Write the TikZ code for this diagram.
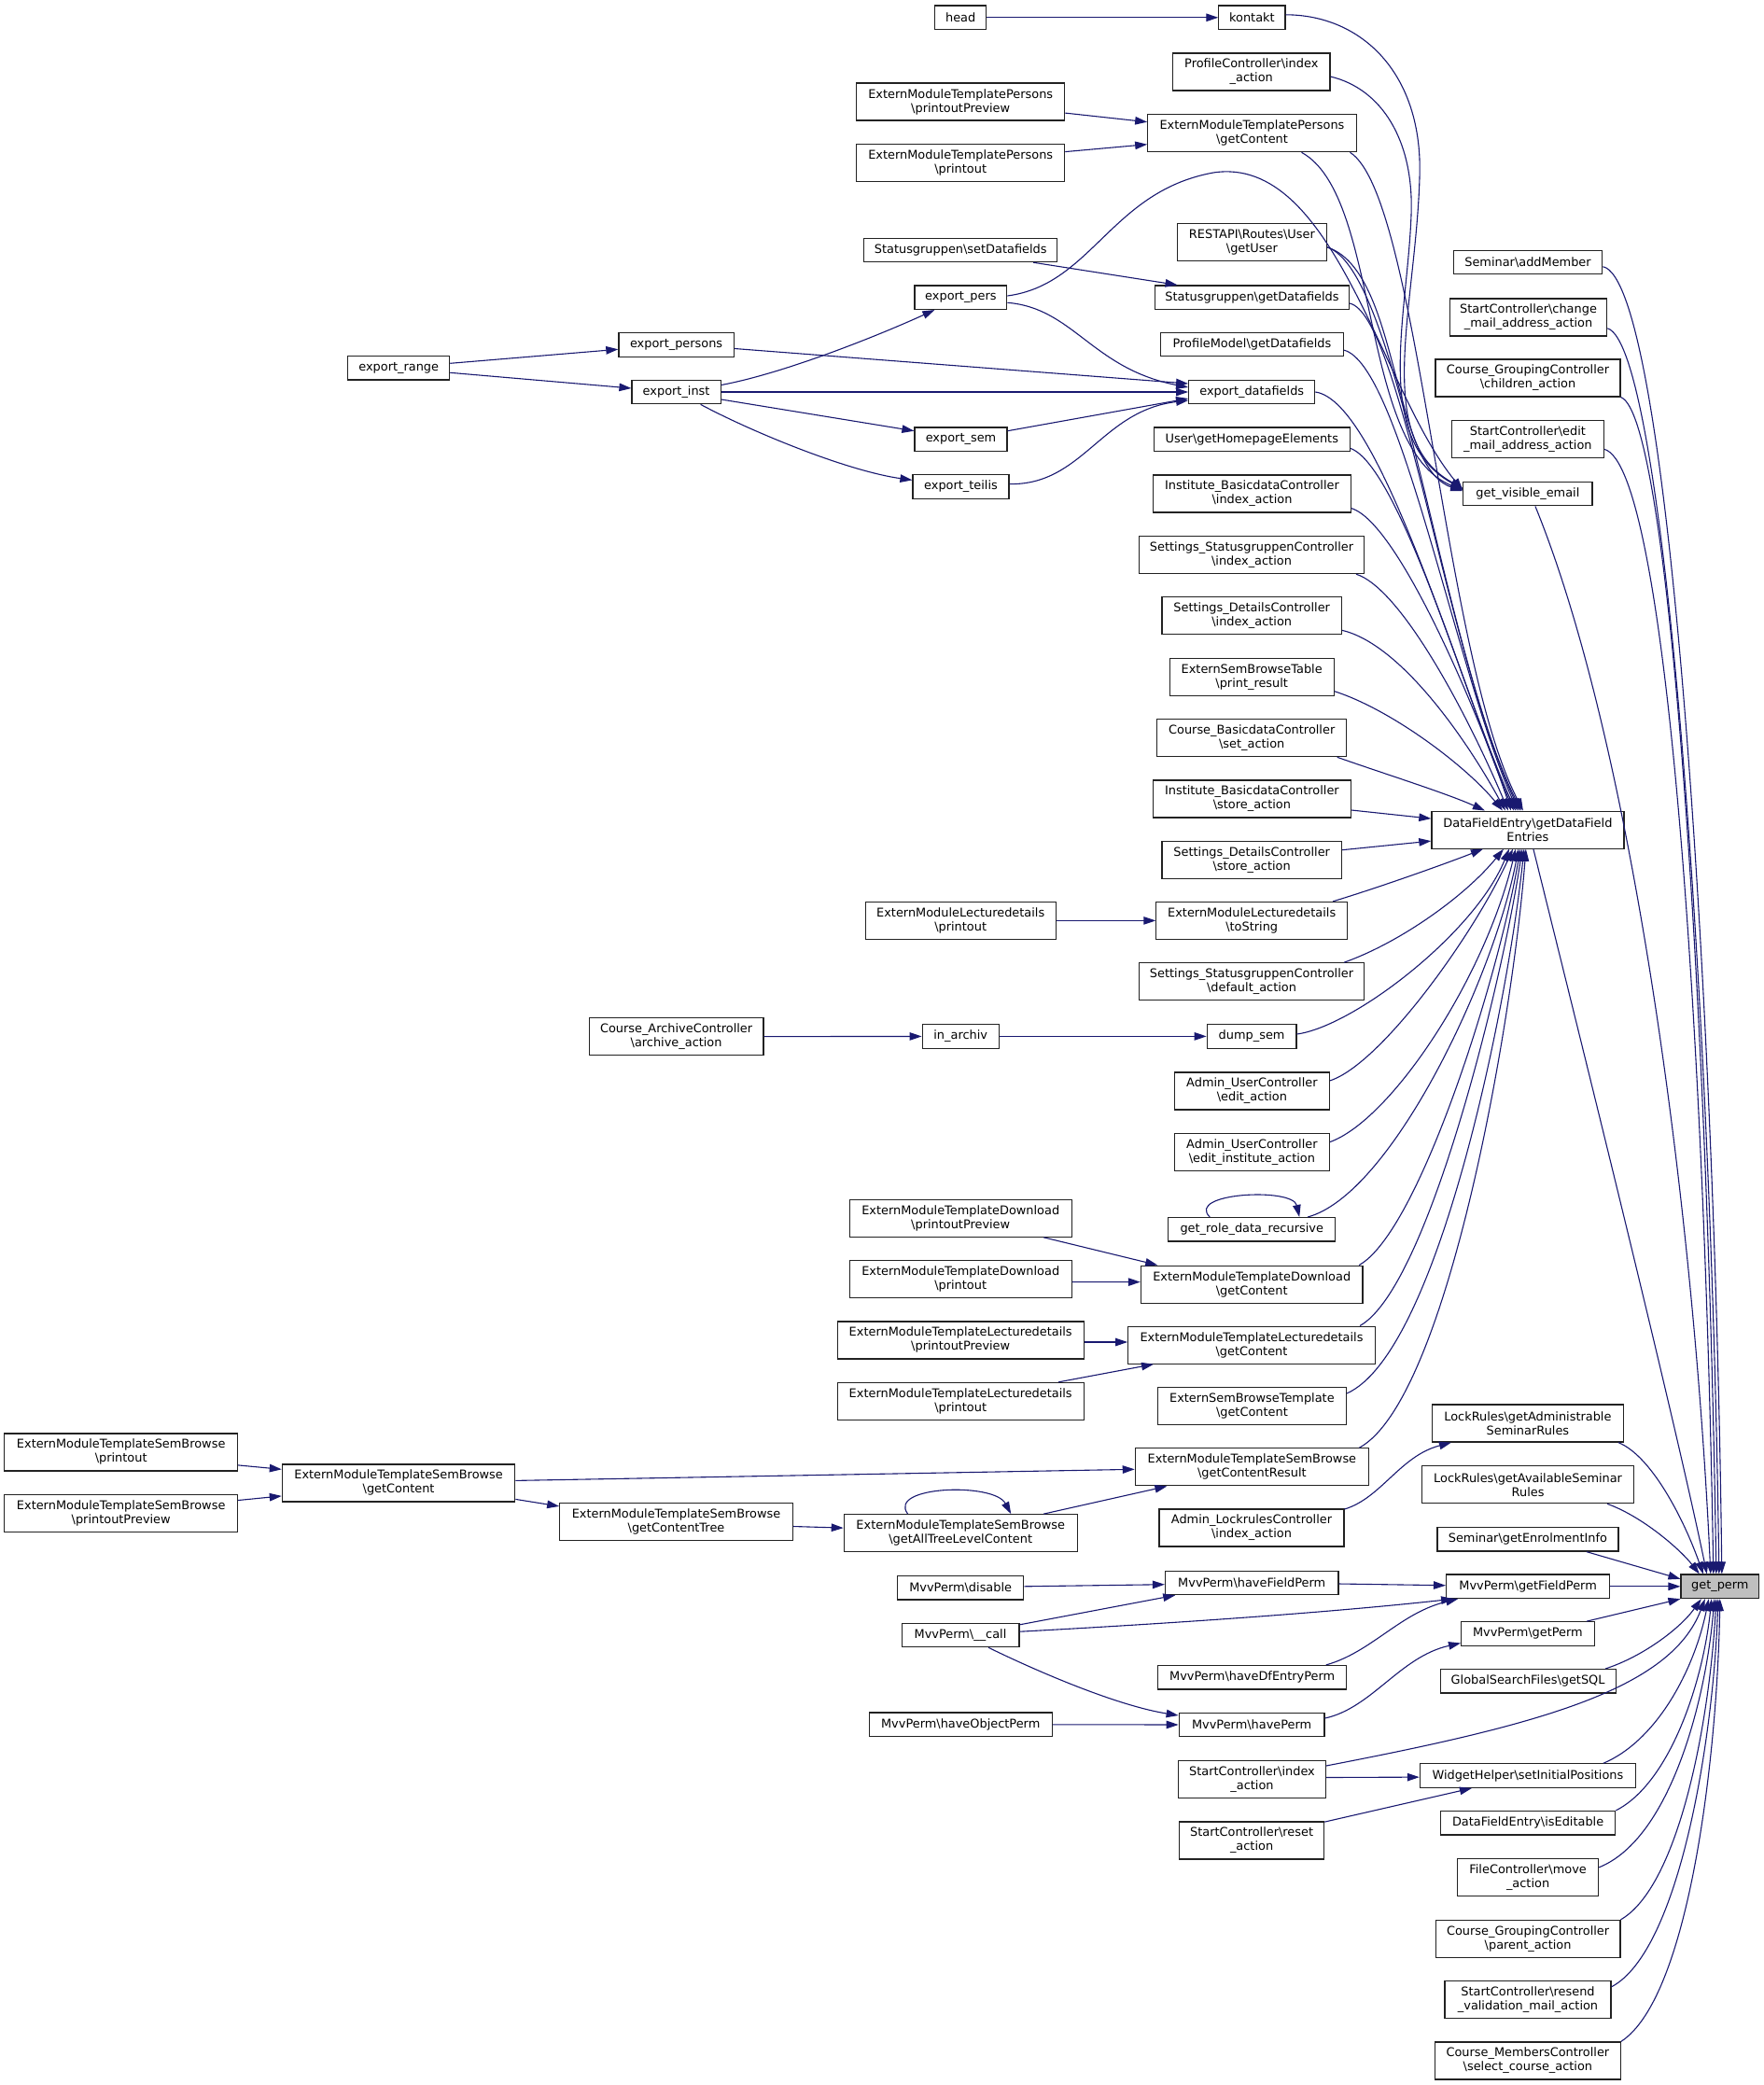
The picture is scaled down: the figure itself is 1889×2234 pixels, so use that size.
\documentclass[tikz,border=0pt]{standalone}
\usepackage{fontspec}
\setmainfont{DejaVu Sans}
\usetikzlibrary{arrows.meta}
\definecolor{edgec}{HTML}{191970}
\definecolor{gpfill}{HTML}{BFBFBF}
\definecolor{boxc}{HTML}{222222}
\newcommand{\bsl}{\textbackslash}
\begin{document}
\begin{tikzpicture}[x=1pt,y=-1pt,
  box/.style={draw=boxc, line width=1.2pt, fill=white, inner sep=0pt, minimum height=25.5pt, align=center, font=\fontsize{12.9}{15}\selectfont},
  boxb/.style={box, minimum height=40pt},
  edg/.style={draw=edgec, line width=1.1pt, -{Triangle[length=13pt,width=8.5pt]}}]
\useasboundingbox (0,0) rectangle (1889,2234);
% column A
\node[boxb, minimum width=249.8pt] (smbPrint) at (129.7,1555.9) {ExternModuleTemplateSemBrowse\\\bsl printout};
\node[boxb, minimum width=249.8pt] (smbPrev) at (129.7,1621.3) {ExternModuleTemplateSemBrowse\\\bsl printoutPreview};
% column B
\node[box, minimum width=108.9pt] (exRange) at (427.2,394.3) {export\_range};
\node[boxb, minimum width=249.4pt] (smbGC) at (427.1,1588.9) {ExternModuleTemplateSemBrowse\\\bsl getContent};
% column C
\node[box, minimum width=123.4pt] (exPersons) at (724.6,369.5) {export\_persons};
\node[box, minimum width=95.2pt] (exInst) at (724.6,420) {export\_inst};
\node[boxb, minimum width=186.8pt] (caArch) at (724.6,1110.7) {Course\_ArchiveController\\\bsl archive\_action};
\node[boxb, minimum width=249.5pt] (smbTree) at (724.5,1630.5) {ExternModuleTemplateSemBrowse\\\bsl getContentTree};
% column D
\node[box, minimum width=55pt] (head) at (1029.2,18.8) {head};
\node[boxb, minimum width=222.9pt] (tpPrev) at (1029.2,109.1) {ExternModuleTemplatePersons\\\bsl printoutPreview};
\node[boxb, minimum width=222.9pt] (tpPrint) at (1029.2,174.6) {ExternModuleTemplatePersons\\\bsl printout};
\node[box, minimum width=206.9pt] (sgSet) at (1029.2,267.9) {Statusgruppen\bsl setDatafields};
\node[box, minimum width=98.8pt] (exPers) at (1029.4,318.7) {export\_pers};
\node[box, minimum width=99pt] (exSem) at (1029.5,470.7) {export\_sem};
\node[box, minimum width=103pt] (exTeilis) at (1029.5,521.4) {export\_teilis};
\node[boxb, minimum width=204pt] (eldPrint) at (1029.2,986.4) {ExternModuleLecturedetails\\\bsl printout};
\node[box, minimum width=82pt] (inArchiv) at (1029.2,1110.4) {in\_archiv};
\node[boxb, minimum width=237.8pt] (dlPrev) at (1029.2,1305.2) {ExternModuleTemplateDownload\\\bsl printoutPreview};
\node[boxb, minimum width=237.8pt] (dlPrint) at (1029.2,1370.7) {ExternModuleTemplateDownload\\\bsl printout};
\node[boxb, minimum width=264.2pt] (ltPrev) at (1029.2,1435.9) {ExternModuleTemplateLecturedetails\\\bsl printoutPreview};
\node[boxb, minimum width=264.2pt] (ltPrint) at (1029.2,1501.4) {ExternModuleTemplateLecturedetails\\\bsl printout};
\node[boxb, minimum width=249.8pt] (atlc) at (1029.2,1642.7) {ExternModuleTemplateSemBrowse\\\bsl getAllTreeLevelContent};
\node[box, minimum width=135pt] (mvDisable) at (1029.2,1701.2) {MvvPerm\bsl disable};
\node[box, minimum width=125.8pt] (mvCall) at (1029,1751.9) {MvvPerm\bsl \_\_call};
\node[box, minimum width=196pt] (mvObj) at (1029.2,1847.8) {MvvPerm\bsl haveObjectPerm};
% column E
\node[box, minimum width=71.1pt] (kontakt) at (1341.4,18.8) {kontakt};
\node[boxb, minimum width=168.5pt] (pcIndex) at (1340.8,77.1) {ProfileController\bsl index\\\_action};
\node[boxb, minimum width=223.5pt] (tpGC) at (1341.5,142.7) {ExternModuleTemplatePersons\\\bsl getContent};
\node[boxb, minimum width=159.5pt] (rest) at (1341.4,259.8) {RESTAPI\bsl Routes\bsl User\\\bsl getUser};
\node[box, minimum width=207.3pt] (sgGet) at (1341.5,318.7) {Statusgruppen\bsl getDatafields};
\node[box, minimum width=195.3pt] (pmGet) at (1341.5,369.1) {ProfileModel\bsl getDatafields};
\node[box, minimum width=135pt] (exDf) at (1341.2,420) {export\_datafields};
\node[box, minimum width=210.1pt] (userHome) at (1341.3,470.7) {User\bsl getHomepageElements};
\node[boxb, minimum width=211.3pt] (ibIndex) at (1341.5,528.9) {Institute\_BasicdataController\\\bsl index\_action};
\node[boxb, minimum width=241.2pt] (ssIndex) at (1341,594.6) {Settings\_StatusgruppenController\\\bsl index\_action};
\node[boxb, minimum width=192.6pt] (sdIndex) at (1341.2,659.8) {Settings\_DetailsController\\\bsl index\_action};
\node[boxb, minimum width=175.8pt] (esbt) at (1341.2,725.2) {ExternSemBrowseTable\\\bsl print\_result};
\node[boxb, minimum width=203.1pt] (cbSet) at (1341.2,790.7) {Course\_BasicdataController\\\bsl set\_action};
\node[boxb, minimum width=211.6pt] (ibStore) at (1341.4,856) {Institute\_BasicdataController\\\bsl store\_action};
\node[boxb, minimum width=192.6pt] (sdStore) at (1341.2,921.4) {Settings\_DetailsController\\\bsl store\_action};
\node[boxb, minimum width=204.7pt] (eldTo) at (1341.2,986.4) {ExternModuleLecturedetails\\\bsl toString};
\node[boxb, minimum width=241.2pt] (ssDefault) at (1341,1051.8) {Settings\_StatusgruppenController\\\bsl default\_action};
\node[box, minimum width=95.6pt] (dumpSem) at (1341.1,1110.4) {dump\_sem};
\node[boxb, minimum width=165.8pt] (auEdit) at (1341.4,1168.9) {Admin\_UserController\\\bsl edit\_action};
\node[boxb, minimum width=165.8pt] (auInst) at (1341.4,1234.6) {Admin\_UserController\\\bsl edit\_institute\_action};
\node[box, minimum width=179pt] (grdr) at (1341.2,1317.3) {get\_role\_data\_recursive};
\node[boxb, minimum width=237.6pt] (dlGC) at (1341.2,1376.1) {ExternModuleTemplateDownload\\\bsl getContent};
\node[boxb, minimum width=264.6pt] (ltGC) at (1341,1441.1) {ExternModuleTemplateLecturedetails\\\bsl getContent};
\node[boxb, minimum width=201.9pt] (esbtGC) at (1341.4,1506.6) {ExternSemBrowseTemplate\\\bsl getContent};
\node[boxb, minimum width=250.1pt] (smbRes) at (1341.4,1571.8) {ExternModuleTemplateSemBrowse\\\bsl getContentResult};
\node[boxb, minimum width=197.9pt] (alIndex) at (1341,1637) {Admin\_LockrulesController\\\bsl index\_action};
\node[box, minimum width=185.4pt] (mvHaveField) at (1341.2,1695.9) {MvvPerm\bsl haveFieldPerm};
\node[box, minimum width=202pt] (mvDf) at (1341.7,1797.3) {MvvPerm\bsl haveDfEntryPerm};
\node[box, minimum width=155.8pt] (mvHave) at (1341.1,1848) {MvvPerm\bsl havePerm};
\node[boxb, minimum width=157.4pt] (scIndex) at (1341.5,1906.5) {StartController\bsl index\\\_action};
\node[boxb, minimum width=155pt] (scReset) at (1341.1,1971.9) {StartController\bsl reset\\\_action};
% column F
\node[box, minimum width=159.5pt] (addMember) at (1637,281) {Seminar\bsl addMember};
\node[boxb, minimum width=168.3pt] (scChange) at (1637.5,340) {StartController\bsl change\\\_mail\_address\_action};
\node[boxb, minimum width=198pt] (cgChildren) at (1637,405) {Course\_GroupingController\\\bsl children\_action};
\node[boxb, minimum width=163.1pt] (scEdit) at (1636.9,470.7) {StartController\bsl edit\\\_mail\_address\_action};
\node[box, minimum width=138.2pt] (gve) at (1636.9,529.1) {get\_visible\_email};
\node[boxb, minimum width=206pt] (dfe) at (1636.9,889.1) {DataFieldEntry\bsl getDataField\\Entries};
\node[boxb, minimum width=204.4pt] (lrAdm) at (1636.9,1525) {LockRules\bsl getAdministrable\\SeminarRules};
\node[boxb, minimum width=227.3pt] (lrAvail) at (1637.1,1590.7) {LockRules\bsl getAvailableSeminar\\Rules};
\node[box, minimum width=194pt] (enrol) at (1636.9,1649.3) {Seminar\bsl getEnrolmentInfo};
\node[box, minimum width=175.1pt] (mvGetField) at (1637.1,1699.8) {MvvPerm\bsl getFieldPerm};
\node[box, minimum width=142.6pt] (mvGetPerm) at (1636.9,1750.5) {MvvPerm\bsl getPerm};
\node[box, minimum width=188pt] (gsf) at (1637.1,1801.3) {GlobalSearchFiles\bsl getSQL};
\node[box, minimum width=231pt] (whSet) at (1636.9,1902.6) {WidgetHelper\bsl setInitialPositions};
\node[box, minimum width=187.2pt] (dfeEdit) at (1637.1,1953.2) {DataFieldEntry\bsl isEditable};
\node[boxb, minimum width=151pt] (fcMove) at (1637.1,2011.8) {FileController\bsl move\\\_action};
\node[boxb, minimum width=197.6pt] (cgParent) at (1637.1,2077.4) {Course\_GroupingController\\\bsl parent\_action};
\node[boxb, minimum width=177.9pt] (scResend) at (1637,2142.6) {StartController\bsl resend\\\_validation\_mail\_action};
\node[boxb, minimum width=198.8pt] (cmSelect) at (1636.9,2207.9) {Course\_MembersController\\\bsl select\_course\_action};
% column G
\node[box, minimum width=83.5pt, fill=gpfill] (gp) at (1842.8,1699.8) {get\_perm};

% ---- edges, left part
\draw[edg] (head) -- (kontakt);
\draw[edg] ([yshift=-12pt]tpPrev.east) -- ([yshift=12pt]tpGC.west);
\draw[edg] ([yshift=12pt]tpPrint.east) -- ([yshift=-12pt]tpGC.west);
\draw[edg] ([xshift=78pt]sgSet.south) -- ([xshift=-80pt]sgGet.north);
\draw[edg] ([yshift=5pt]exRange.east) -- ([yshift=-4.8pt]exPersons.west);
\draw[edg] ([yshift=-5pt]exRange.east) -- ([yshift=4pt]exInst.west);
\draw[edg] ([yshift=7.5pt]exInst.east) .. controls (840,400) and (940,360) .. ([xshift=-28pt]exPers.south);
\draw[edg] (exInst) -- (exDf);
\draw[edg] ([yshift=-8pt]exInst.east) -- ([yshift=9pt]exSem.west);
\draw[edg] ([xshift=26pt]exInst.south) .. controls (810,465) and (910,505) .. ([yshift=7pt]exTeilis.west);
\draw[edg] ([yshift=-4pt]exPersons.east) -- ([yshift=9pt]exDf.west);
\draw[edg] ([yshift=-5.6pt]exPers.east) .. controls (1150,330) and (1170,395) .. ([yshift=5pt]exDf.west);
\draw[edg] ([yshift=9pt]exSem.east) -- ([yshift=-7pt]exDf.west);
\draw[edg] ([yshift=2.8pt]exTeilis.east) .. controls (1160,520) and (1180,440) .. ([yshift=-9pt]exDf.west);
\draw[edg] ([yshift=1.7pt]exPers.east) .. controls (1170,305) and (1190,205) .. (1300,185) .. controls (1430,165) and (1480,420) .. ([yshift=4pt]gve.west);
\draw[edg] (eldPrint) -- (eldTo);
\draw[edg] (caArch) -- (inArchiv);
\draw[edg] (inArchiv) -- (dumpSem);
\draw[edg] ([xshift=-45pt]grdr.north) .. controls (1270,1278) and (1385,1272) .. ([xshift=51pt]grdr.north);
\draw[edg] ([xshift=89pt]dlPrev.south) -- ([xshift=-101pt]dlGC.north);
\draw[edg] ([yshift=-2.9pt]dlPrint.east) -- ([yshift=2.5pt]dlGC.west);
\draw[edg] ([yshift=-2.1pt]ltPrev.east) -- ([yshift=3.1pt]ltGC.west);
\draw[edg] ([xshift=105pt]ltPrint.north) -- ([xshift=-105pt]ltGC.south);
\draw[edg] ([yshift=-14pt]smbPrint.east) -- ([yshift=14.6pt]smbGC.west);
\draw[edg] ([yshift=13.8pt]smbPrev.east) -- ([yshift=-14pt]smbGC.west);
\draw[edg] ([yshift=2.5pt]smbGC.east) -- ([yshift=-2.5pt]smbRes.west);
\draw[edg] ([yshift=-17.5pt]smbGC.east) -- ([yshift=16.6pt]smbTree.west);
\draw[edg] ([yshift=-5pt]smbTree.east) -- ([yshift=5.6pt]atlc.west);
\draw[edg] ([xshift=-56.6pt]atlc.north) .. controls (950,1592) and (1065,1588) .. ([xshift=54pt]atlc.north);
\draw[edg] ([xshift=89pt]atlc.north) -- ([xshift=-91pt]smbRes.south);

% ---- edges into get_visible_email
\draw[edg] ([yshift=3pt]kontakt.east) .. controls (1460,16) and (1525,80) .. (1521,190) .. controls (1517,330) and (1470,470) .. ([yshift=6pt]gve.west);
\draw[edg] ([yshift=-5pt]pcIndex.east) .. controls (1480,95) and (1515,150) .. (1512,230) .. controls (1508,340) and (1470,470) .. ([yshift=5pt]gve.west);
\draw[edg] ([xshift=53pt]tpGC.south) .. controls (1480,210) and (1455,480) .. ([yshift=4pt]gve.west);
\draw[edg] ([yshift=-5pt]rest.east) .. controls (1500,290) and (1490,500) .. ([yshift=3pt]gve.west);

% ---- edges into DataFieldEntry getDataFieldEntries
\draw[edg] ([xshift=105pt]tpGC.south) .. controls (1520,210) and (1545,700) .. ([xshift=-5pt]dfe.north);
\draw[edg] ([yshift=-5pt]rest.east) .. controls (1500,290) and (1545,700) .. ([xshift=-7pt]dfe.north);
\draw[edg] ([yshift=-6.3pt]sgGet.east) .. controls (1500,335) and (1550,700) .. ([xshift=-9pt]dfe.north);
\draw[edg] ([yshift=-6pt]pmGet.east) .. controls (1500,390) and (1560,720) .. ([xshift=-11pt]dfe.north);
\draw[edg] (exDf.east) .. controls (1480,430) and (1565,740) .. ([xshift=-13pt]dfe.north);
\draw[edg] ([yshift=-9.7pt]userHome.east) .. controls (1500,500) and (1575,760) .. ([xshift=-15pt]dfe.north);
\draw[edg] ([yshift=-15.7pt]ibIndex.east) .. controls (1500,560) and (1590,780) .. ([xshift=-18pt]dfe.north);
\draw[edg] ([xshift=112pt]ssIndex.south) .. controls (1500,630) and (1570,760) .. ([xshift=-21pt]dfe.north);
\draw[edg] ([yshift=-15.6pt]sdIndex.east) .. controls (1500,690) and (1570,790) .. ([xshift=-24pt]dfe.north);
\draw[edg] ([yshift=-15.5pt]esbt.east) .. controls (1490,760) and (1570,820) .. ([xshift=-27pt]dfe.north);
\draw[edg] ([xshift=91.5pt]cbSet.south) .. controls (1480,828) and (1550,850) .. ([xshift=-46pt]dfe.north);
\draw[edg] ([yshift=-12pt]ibStore.east) -- ([yshift=12pt]dfe.west);
\draw[edg] ([yshift=10.7pt]sdStore.east) -- ([yshift=-12pt]dfe.west);
\draw[edg] ([xshift=87pt]eldTo.north) .. controls (1480,950) and (1550,925) .. ([xshift=-48pt]dfe.south);
\draw[edg] ([xshift=99pt]ssDefault.north) .. controls (1500,1010) and (1570,960) .. ([xshift=-26pt]dfe.south);
\draw[edg] ([yshift=2.4pt]dumpSem.east) .. controls (1450,1100) and (1580,1000) .. ([xshift=-20pt]dfe.south);
\draw[edg] ([yshift=11pt]auEdit.east) .. controls (1480,1140) and (1580,1000) .. ([xshift=-16pt]dfe.south);
\draw[edg] ([yshift=11pt]auInst.east) .. controls (1490,1200) and (1590,1050) .. ([xshift=-13pt]dfe.south);
\draw[edg] ([xshift=60pt]grdr.north) .. controls (1490,1280) and (1600,1050) .. ([xshift=-10pt]dfe.south);
\draw[edg] ([xshift=115pt]dlGC.north) .. controls (1520,1320) and (1605,1050) .. ([xshift=-8pt]dfe.south);
\draw[edg] ([xshift=116pt]ltGC.north) .. controls (1530,1380) and (1610,1050) .. ([xshift=-6pt]dfe.south);
\draw[edg] ([yshift=13.6pt]esbtGC.east) .. controls (1540,1450) and (1615,1080) .. ([xshift=-4pt]dfe.south);
\draw[edg] ([xshift=115pt]smbRes.north) .. controls (1550,1500) and (1620,1100) .. ([xshift=-2pt]dfe.south);

% ---- edges into get_perm
\draw[edg] ([yshift=-4.7pt]addMember.east) .. controls (1790,300) and (1838,1100) .. ([xshift=2pt]gp.north);
\draw[edg] ([yshift=-11.8pt]scChange.east) .. controls (1785,370) and (1834,1100) .. ([xshift=-1pt]gp.north);
\draw[edg] (cgChildren.south east) .. controls (1790,445) and (1830,1100) .. ([xshift=-4pt]gp.north);
\draw[edg] ([yshift=-10.7pt]scEdit.east) .. controls (1785,500) and (1826,1100) .. ([xshift=-7pt]gp.north);
\draw[edg] ([xshift=8pt]gve.south) .. controls (1750,800) and (1815,1300) .. ([xshift=-10pt]gp.north);
\draw[edg] ([xshift=6pt]dfe.south) .. controls (1680,1060) and (1790,1500) .. ([xshift=-14pt]gp.north);
\draw[edg] ([xshift=97pt]lrAdm.south) .. controls (1770,1560) and (1805,1630) .. ([xshift=-18pt]gp.north);
\draw[edg] ([xshift=85pt]lrAvail.south) .. controls (1760,1625) and (1800,1660) .. ([xshift=-22pt]gp.north);
\draw[edg] ([xshift=63pt]enrol.south) -- ([yshift=8pt]gp.west);
\draw[edg] (mvGetField) -- (gp);
\draw[edg] ([xshift=63pt]mvGetPerm.north) -- (gp.south west);
\draw[edg] ([xshift=83pt]gsf.north) .. controls (1760,1775) and (1800,1745) .. ([xshift=-20pt]gp.south);
\draw[edg] ([yshift=14.5pt]scIndex.east) .. controls (1650,1848) and (1790,1810) .. ([xshift=-16pt]gp.south);
\draw[edg] ([xshift=81pt]whSet.north) .. controls (1775,1865) and (1815,1790) .. ([xshift=-12pt]gp.south);
\draw[edg] (dfeEdit.north east) .. controls (1790,1910) and (1825,1800) .. ([xshift=-9pt]gp.south);
\draw[edg] ([yshift=11pt]fcMove.east) .. controls (1790,1970) and (1828,1820) .. ([xshift=-6pt]gp.south);
\draw[edg] (cgParent.north east) .. controls (1800,2020) and (1832,1840) .. ([xshift=-4pt]gp.south);
\draw[edg] ([yshift=13.8pt]scResend.east) .. controls (1800,2090) and (1836,1860) .. ([xshift=-2pt]gp.south);
\draw[edg] (cmSelect.north east) .. controls (1810,2140) and (1840,1880) .. (gp.south);

% ---- MvvPerm and others
\draw[edg] ([yshift=1.4pt]mvDisable.east) -- ([yshift=-1.8pt]mvHaveField.west);
\draw[edg] ([yshift=11.1pt]mvCall.east) -- ([xshift=-82pt]mvHaveField.south);
\draw[edg] ([yshift=3.7pt]mvCall.east) .. controls (1300,1737) and (1450,1725) .. ([xshift=-80pt]mvGetField.south);
\draw[edg] ([xshift=30pt]mvCall.south) .. controls (1120,1795) and (1200,1828) .. ([yshift=10pt]mvHave.west);
\draw[edg] (mvObj) -- (mvHave);
\draw[edg] ([yshift=-1.1pt]mvHaveField.east) -- ([yshift=1.1pt]mvGetField.west);
\draw[edg] ([xshift=79pt]mvDf.north) .. controls (1470,1770) and (1500,1728) .. ([xshift=-75pt]mvGetField.south);
\draw[edg] ([yshift=7pt]mvHave.east) .. controls (1470,1830) and (1500,1775) .. ([yshift=-10pt]mvGetPerm.west);
\draw[edg] ([yshift=2pt]scIndex.east) -- ([yshift=-1.5pt]whSet.west);
\draw[edg] ([yshift=19.8pt]scReset.east) -- ([xshift=-60pt]whSet.south);
\draw[edg] ([yshift=20pt]alIndex.east) .. controls (1480,1605) and (1500,1560) .. ([xshift=-82pt]lrAdm.south);
\end{tikzpicture}
\end{document}
